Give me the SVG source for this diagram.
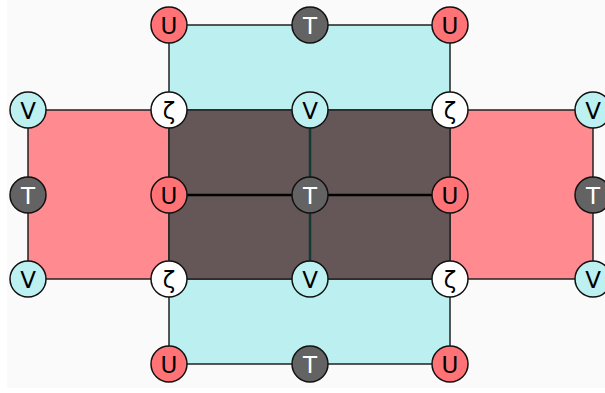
<svg xmlns="http://www.w3.org/2000/svg" width="605" height="393" viewBox="0 0 605 393">
<style>
.n circle{stroke:#111;stroke-width:1.5}
.n text{font-family:"DejaVu Sans",sans-serif;font-size:23px;text-anchor:middle;dominant-baseline:central}
.U circle{fill:#ff7276}
.T circle{fill:#636363}
.V circle{fill:#bdf0f0}
.Z circle{fill:#ffffff}
.T text{fill:#ffffff}
.U text,.V text,.Z text{fill:#000}
.r{stroke:#222;stroke-width:1.5}
</style>
<rect width="605" height="393" fill="#ffffff"/>
<rect x="7" y="0" width="598" height="388" fill="#fafafa"/>
<g id="regions">
<rect class="r" x="169" y="25" width="281" height="85" fill="#bcf0f0"/>
<rect class="r" x="169" y="279" width="281" height="85" fill="#bcf0f0"/>
<rect class="r" x="28" y="110" width="141" height="169" fill="#ff8a90"/>
<rect class="r" x="450" y="110" width="143" height="169" fill="#ff8a90"/>
<rect class="r" x="169" y="110" width="281" height="169" fill="#655757"/>
</g>
<g id="connectors">
<line x1="169" y1="195" x2="450" y2="195" stroke="#000" stroke-width="2.5"/>
<line x1="310" y1="110" x2="310" y2="279" stroke="#173636" stroke-width="2.5"/>
</g>
<g id="n1" class="n U"><circle cx="169" cy="25" r="18"/><text x="169" y="26">U</text></g>
<g id="n2" class="n T"><circle cx="310" cy="25" r="18"/><text x="310" y="26">T</text></g>
<g id="n3" class="n U"><circle cx="450" cy="25" r="18"/><text x="450" y="26">U</text></g>
<g id="n4" class="n V"><circle cx="28" cy="110" r="18"/><text x="28" y="111">V</text></g>
<g id="n5" class="n Z"><circle cx="169" cy="110" r="18"/><text x="169" y="111">ζ</text></g>
<g id="n6" class="n V"><circle cx="310" cy="110" r="18"/><text x="310" y="111">V</text></g>
<g id="n7" class="n Z"><circle cx="450" cy="110" r="18"/><text x="450" y="111">ζ</text></g>
<g id="n8" class="n V"><circle cx="593" cy="110" r="18"/><text x="593" y="111">V</text></g>
<g id="n9" class="n T"><circle cx="28" cy="195" r="18"/><text x="28" y="196">T</text></g>
<g id="n10" class="n U"><circle cx="169" cy="195" r="18"/><text x="169" y="196">U</text></g>
<g id="n11" class="n T"><circle cx="310" cy="195" r="18"/><text x="310" y="196">T</text></g>
<g id="n12" class="n U"><circle cx="450" cy="195" r="18"/><text x="450" y="196">U</text></g>
<g id="n13" class="n T"><circle cx="593" cy="195" r="18"/><text x="593" y="196">T</text></g>
<g id="n14" class="n V"><circle cx="28" cy="279" r="18"/><text x="28" y="280">V</text></g>
<g id="n15" class="n Z"><circle cx="169" cy="279" r="18"/><text x="169" y="280">ζ</text></g>
<g id="n16" class="n V"><circle cx="310" cy="279" r="18"/><text x="310" y="280">V</text></g>
<g id="n17" class="n Z"><circle cx="450" cy="279" r="18"/><text x="450" y="280">ζ</text></g>
<g id="n18" class="n V"><circle cx="593" cy="279" r="18"/><text x="593" y="280">V</text></g>
<g id="n19" class="n U"><circle cx="169" cy="364" r="18"/><text x="169" y="365">U</text></g>
<g id="n20" class="n T"><circle cx="310" cy="364" r="18"/><text x="310" y="365">T</text></g>
<g id="n21" class="n U"><circle cx="450" cy="364" r="18"/><text x="450" y="365">U</text></g>
</svg>
